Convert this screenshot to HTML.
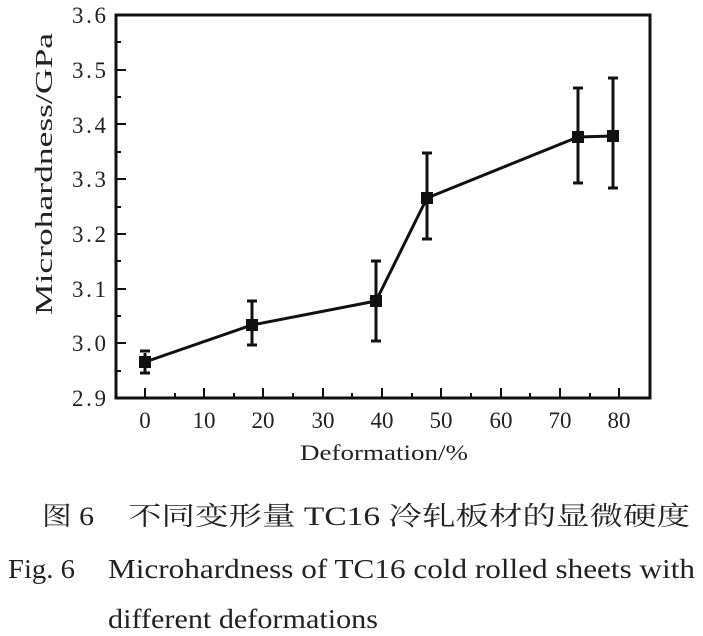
<!DOCTYPE html>
<html><head><meta charset="utf-8"><style>
html,body{margin:0;padding:0;background:#fff;width:703px;height:636px;overflow:hidden}
svg text{font-family:"Liberation Serif","Noto Serif CJK SC",serif;fill:#222}
</style></head><body>
<svg width="703" height="636" viewBox="0 0 703 636" xmlns="http://www.w3.org/2000/svg">
<g stroke="#111" stroke-width="3" fill="none">
<rect x="116" y="15" width="534" height="383"/>
</g>
<g stroke="#111" stroke-width="2">
<line x1="116" y1="70" x2="126" y2="70"/><line x1="116" y1="124" x2="126" y2="124"/>
<line x1="116" y1="179" x2="126" y2="179"/><line x1="116" y1="234" x2="126" y2="234"/>
<line x1="116" y1="289" x2="126" y2="289"/><line x1="116" y1="343" x2="126" y2="343"/>
<line x1="116" y1="42" x2="121" y2="42"/><line x1="116" y1="97" x2="121" y2="97"/>
<line x1="116" y1="152" x2="121" y2="152"/><line x1="116" y1="207" x2="121" y2="207"/>
<line x1="116" y1="261" x2="121" y2="261"/><line x1="116" y1="316" x2="121" y2="316"/>
<line x1="116" y1="371" x2="121" y2="371"/>
<line x1="145" y1="398" x2="145" y2="388"/><line x1="204" y1="398" x2="204" y2="388"/>
<line x1="263" y1="398" x2="263" y2="388"/><line x1="323" y1="398" x2="323" y2="388"/>
<line x1="382" y1="398" x2="382" y2="388"/><line x1="441" y1="398" x2="441" y2="388"/>
<line x1="501" y1="398" x2="501" y2="388"/><line x1="560" y1="398" x2="560" y2="388"/>
<line x1="619" y1="398" x2="619" y2="388"/>
<line x1="175" y1="398" x2="175" y2="393"/><line x1="234" y1="398" x2="234" y2="393"/>
<line x1="293" y1="398" x2="293" y2="393"/><line x1="352" y1="398" x2="352" y2="393"/>
<line x1="412" y1="398" x2="412" y2="393"/><line x1="471" y1="398" x2="471" y2="393"/>
<line x1="530" y1="398" x2="530" y2="393"/><line x1="590" y1="398" x2="590" y2="393"/>
</g>
<polyline points="145,362 252,325 376,301 427,198 578,137 613,136" fill="none" stroke="#111" stroke-width="3"/>
<g stroke="#111" stroke-width="3">
<line x1="145" y1="353" x2="145" y2="373"/><line x1="140" y1="351" x2="150" y2="351"/><line x1="140" y1="373" x2="150" y2="373"/>
<line x1="252" y1="301" x2="252" y2="345"/><line x1="247" y1="301" x2="257" y2="301"/><line x1="247" y1="345" x2="257" y2="345"/>
<line x1="376" y1="261" x2="376" y2="341"/><line x1="371" y1="261" x2="381" y2="261"/><line x1="371" y1="341" x2="381" y2="341"/>
<line x1="427" y1="153" x2="427" y2="239"/><line x1="422" y1="153" x2="432" y2="153"/><line x1="422" y1="239" x2="432" y2="239"/>
<line x1="578" y1="88" x2="578" y2="183"/><line x1="573" y1="88" x2="583" y2="88"/><line x1="573" y1="183" x2="583" y2="183"/>
<line x1="613" y1="78" x2="613" y2="188"/><line x1="608" y1="78" x2="618" y2="78"/><line x1="608" y1="188" x2="618" y2="188"/>
</g>
<g fill="#111">
<rect x="139" y="356" width="12" height="12"/><rect x="246" y="319" width="12" height="12"/>
<rect x="370" y="295" width="12" height="12"/><rect x="421" y="192" width="12" height="12"/>
<rect x="572" y="131" width="12" height="12"/><rect x="607" y="130" width="12" height="12"/>
</g>
<g font-size="23" text-anchor="end">
<text x="106" y="23" textLength="34">3.6</text><text x="106" y="78" textLength="34">3.5</text><text x="106" y="133" textLength="34">3.4</text>
<text x="106" y="187" textLength="34">3.3</text><text x="106" y="242" textLength="34">3.2</text><text x="106" y="297" textLength="34">3.1</text>
<text x="106" y="351" textLength="34">3.0</text><text x="106" y="406" textLength="34">2.9</text>
</g>
<g font-size="23" text-anchor="middle">
<text x="145" y="428">0</text><text x="204" y="428">10</text><text x="263" y="428">20</text>
<text x="323" y="428">30</text><text x="382" y="428">40</text><text x="441" y="428">50</text>
<text x="501" y="428">60</text><text x="560" y="428">70</text><text x="619" y="428">80</text>
</g>
<text x="300" y="460" font-size="22" textLength="168" lengthAdjust="spacingAndGlyphs">Deformation/%</text>
<text font-size="24" x="-315" y="52" textLength="282" lengthAdjust="spacingAndGlyphs" transform="rotate(-90)">Microhardness/GPa</text>
<text x="42" y="525" font-size="26" textLength="52" lengthAdjust="spacingAndGlyphs">图 6</text>
<text x="128" y="525" font-size="26" textLength="562" lengthAdjust="spacingAndGlyphs">不同变形量 TC16 冷轧板材的显微硬度</text>
<text x="8" y="578" font-size="27" textLength="67" lengthAdjust="spacingAndGlyphs">Fig. 6</text>
<text x="108" y="578" font-size="27" textLength="587" lengthAdjust="spacingAndGlyphs">Microhardness of TC16 cold rolled sheets with</text>
<text x="108" y="628" font-size="27" textLength="270" lengthAdjust="spacingAndGlyphs">different deformations</text>
</svg>
</body></html>
